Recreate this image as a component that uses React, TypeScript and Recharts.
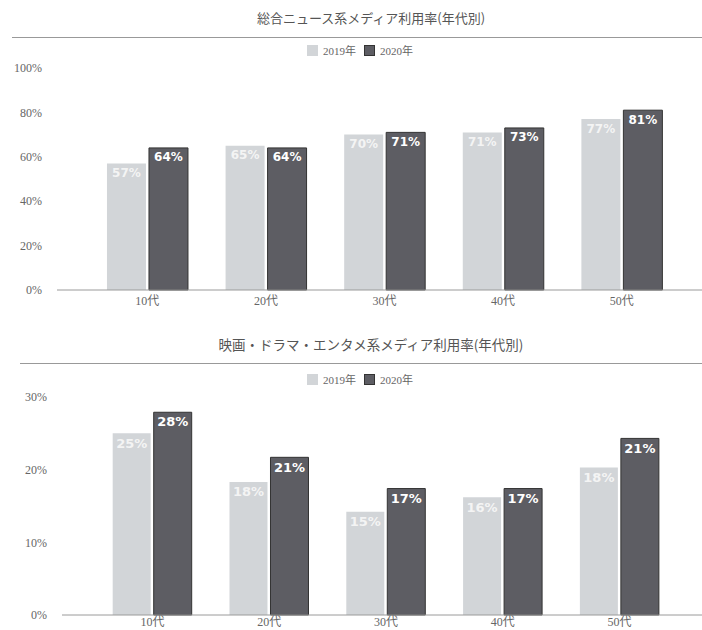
import React from 'react'
import { BarChart, Bar, XAxis, YAxis, LabelList } from 'recharts'

const ages = ['10代', '20代', '30代', '40代', '50代']
const years = ['2019年', '2020年']

const newsTitle = '総合ニュース系メディア利用率(年代別)'
const news2019 = [57, 65, 70, 71, 77]
const news2020 = [64, 64, 71, 73, 81]
const newsTicks = [0, 20, 40, 60, 80, 100]

const entTitle = '映画・ドラマ・エンタメ系メディア利用率(年代別)'
// bar heights as drawn in the source; the printed labels differ a bit at 50代
const ent2019 = [25, 18.3, 14.2, 16.2, 20.3]
const ent2020 = [27.9, 21.7, 17.4, 17.4, 24.3]
const ent2019Labels = ['25%', '18%', '15%', '16%', '18%']
const ent2020Labels = ['28%', '21%', '17%', '17%', '21%']
const entTicks = [0, 10, 20, 30]

const LIGHT = '#d2d5d8'
const DARK = '#5d5d63'
const TEXT = '#666'
const FONT = '"Liberation Serif", "Noto Sans CJK JP", serif'

const newsData = ages.map((a, i) => ({
  name: a,
  a: news2019[i],
  b: news2020[i],
  la: `${news2019[i]}%`,
  lb: `${news2020[i]}%`,
}))

const entData = ages.map((a, i) => ({
  name: a,
  a: ent2019[i],
  b: ent2020[i],
  la: ent2019Labels[i],
  lb: ent2020Labels[i],
}))

const LegendRow = ({ top, left }: { top: number; left: number }) => (
  <div
    style={{
      position: 'absolute',
      top,
      left,
      display: 'flex',
      alignItems: 'center',
      fontFamily: FONT,
      fontSize: 11,
      color: TEXT,
    }}
  >
    {years.map((y, i) => (
      <span key={y} style={{ display: 'flex', alignItems: 'center', marginRight: 8 }}>
        <span
          style={{
            display: 'inline-block',
            width: 11,
            height: 11,
            marginRight: 5,
            background: i === 0 ? LIGHT : DARK,
            border: i === 0 ? 'none' : '1px solid #333',
            boxSizing: 'border-box',
          }}
        />
        {y}
      </span>
    ))}
  </div>
)

interface BlockProps {
  top: number
  title: string
  titleTop: number
  titleSize: number
  ruleTop: number
  ruleLeft: number
  legendTop: number
  data: typeof newsData
  max: number
  ticks: number[]
  height: number
  marginTop: number
  xAxisHeight: number
  xTickSize: number
  yWidth: number
  padLeft: number
  padRight: number
  labelSize: number
}

const Block = (p: BlockProps) => (
  <>
    <div
      style={{
        position: 'absolute',
        top: p.titleTop,
        left: 0,
        width: 742,
        textAlign: 'center',
        fontFamily: '"Noto Sans CJK JP", sans-serif',
        fontSize: p.titleSize,
        color: '#555',
        lineHeight: 1,
      }}
    >
      {p.title}
    </div>
    <div
      style={{
        position: 'absolute',
        top: p.ruleTop,
        left: p.ruleLeft,
        width: 702 - p.ruleLeft,
        height: 1,
        background: '#999',
      }}
    />
    <LegendRow top={p.legendTop} left={307} />
    <div style={{ position: 'absolute', top: p.top, left: 0 }}>
      <BarChart
        width={702}
        height={p.height}
        data={p.data}
        margin={{ top: p.marginTop, right: 0, bottom: 0, left: 0 }}
        barCategoryGap="16%"
        barGap={3}
      >
        <XAxis
          dataKey="name"
          height={p.xAxisHeight}
          tickLine={false}
          tickSize={p.xTickSize}
          axisLine={{ stroke: '#9a9a9a' }}
          padding={{ left: p.padLeft, right: p.padRight }}
          tick={{ fill: TEXT, fontSize: 12, fontFamily: FONT }}
        />
        <YAxis
          width={p.yWidth}
          domain={[0, p.max]}
          ticks={p.ticks}
          tickLine={false}
          axisLine={false}
          tickMargin={9}
          tickFormatter={(v) => `${v}%`}
          tick={{ fill: TEXT, fontSize: 12, fontFamily: FONT }}
        />
        <Bar dataKey="a" fill={LIGHT} isAnimationActive={false}>
          <LabelList
            dataKey="la"
            position="insideTop"
            offset={5}
            fill="#f4f4f4"
            fontSize={p.labelSize}
            fontFamily='"DejaVu Sans", sans-serif'
            fontWeight="bold"
          />
        </Bar>
        <Bar dataKey="b" fill={DARK} stroke="#333" strokeWidth={1} isAnimationActive={false}>
          <LabelList
            dataKey="lb"
            position="insideTop"
            offset={5}
            fill="#fff"
            fontSize={p.labelSize}
            fontFamily='"DejaVu Sans", sans-serif'
            fontWeight="bold"
          />
        </Bar>
      </BarChart>
    </div>
  </>
)

export default function App() {
  return (
    <div
      style={{
        position: 'absolute',
        left: 0,
        top: 0,
        width: 702,
        height: 630,
        background: '#fff',
        overflow: 'hidden',
      }}
    >
      <Block
        top={0}
        title={newsTitle}
        titleTop={11}
        titleSize={13}
        ruleTop={37}
        ruleLeft={12}
        legendTop={42}
        data={newsData}
        max={100}
        ticks={newsTicks}
        height={310}
        marginTop={68}
        xAxisHeight={20}
        xTickSize={4}
        yWidth={57}
        padLeft={31}
        padRight={21}
        labelSize={12}
      />
      <Block
        top={320}
        title={entTitle}
        titleTop={338}
        titleSize={13.5}
        ruleTop={363}
        ruleLeft={20}
        legendTop={371}
        data={entData}
        max={30}
        ticks={entTicks}
        height={310}
        marginTop={77}
        xAxisHeight={15}
        xTickSize={0}
        yWidth={62}
        padLeft={32}
        padRight={24}
        labelSize={13}
      />
    </div>
  )
}
